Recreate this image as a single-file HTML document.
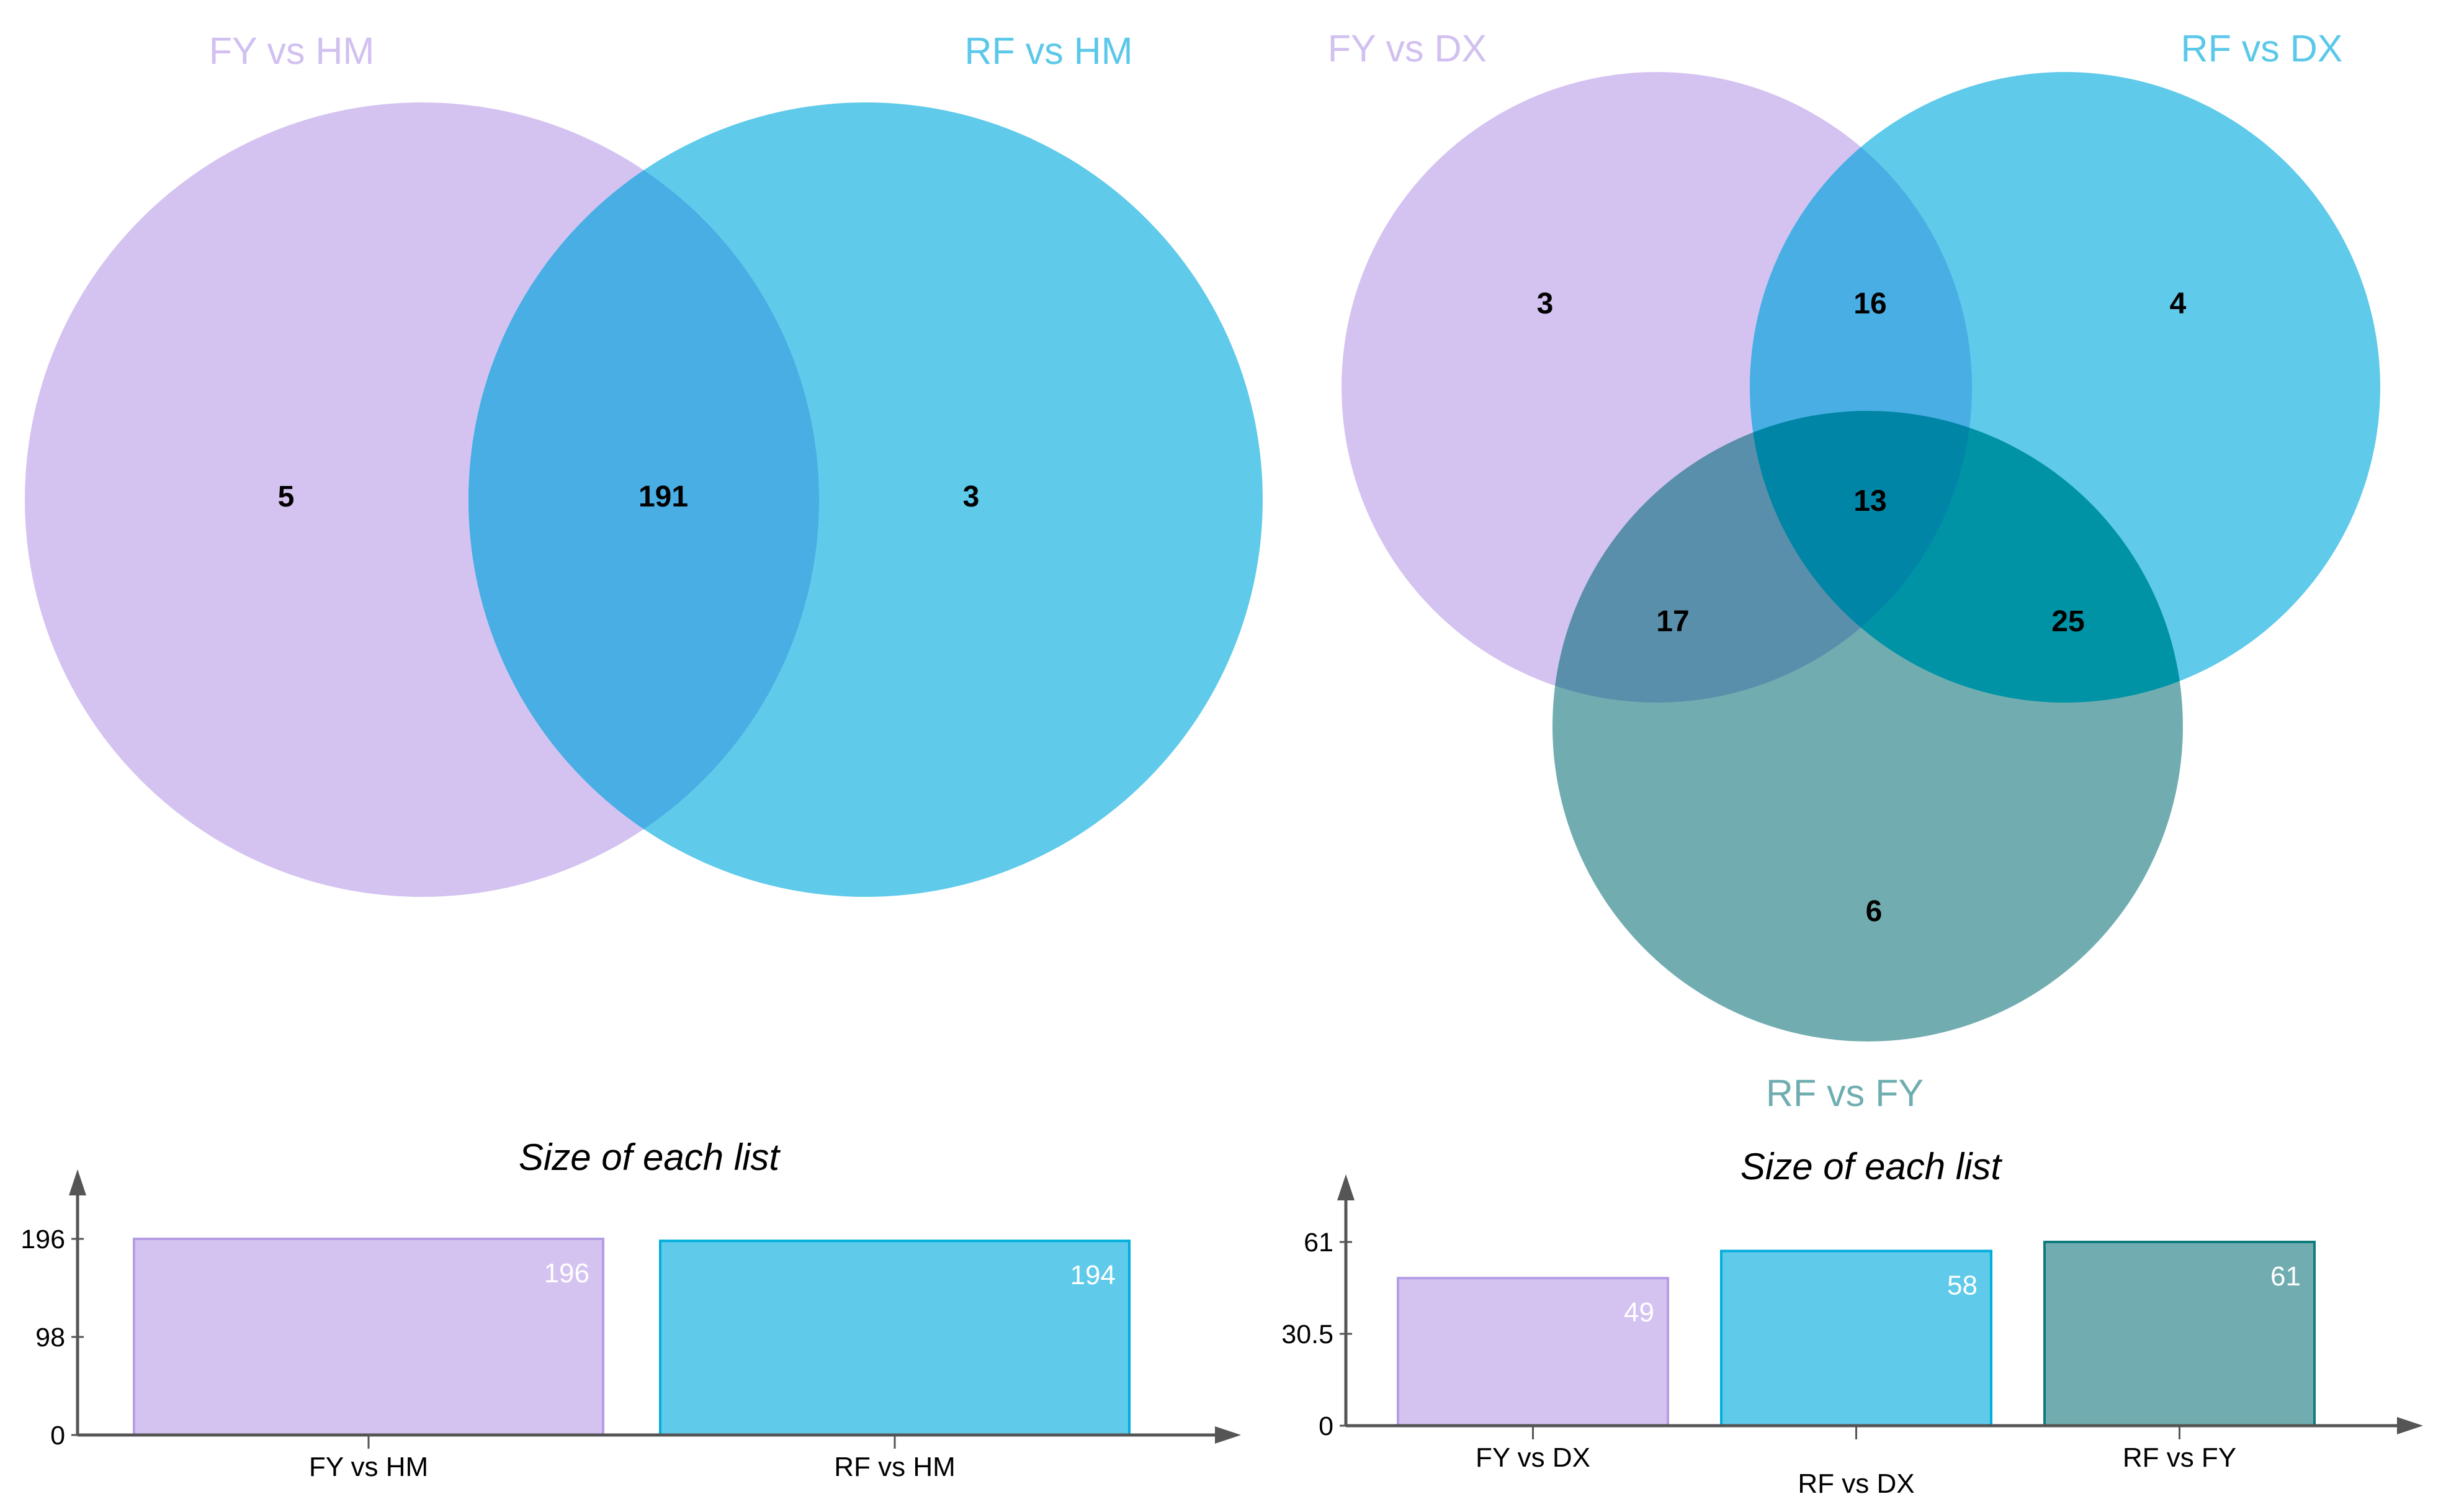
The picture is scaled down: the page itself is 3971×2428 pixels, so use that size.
<!DOCTYPE html>
<html><head><meta charset="utf-8"><style>
html,body{margin:0;padding:0;background:#fff;}
svg{display:block;font-family:"Liberation Sans",sans-serif;}
</style></head><body>
<svg id="root" width="3971" height="2428" viewBox="0 0 3971 2428" xmlns="http://www.w3.org/2000/svg">
<defs>
<clipPath id="cA"><circle cx="680" cy="805" r="640"/></clipPath>
<clipPath id="cP"><circle cx="2670" cy="624" r="508"/></clipPath>
<clipPath id="cB"><circle cx="3328" cy="624" r="508"/></clipPath>
<clipPath id="cT"><circle cx="3010" cy="1170" r="508"/></clipPath>
</defs>
<g>
<circle cx="680" cy="805" r="640" fill="#d4c3f1"/>
<circle cx="1395" cy="805" r="640" fill="#5fcaea"/>
<circle cx="1395" cy="805" r="640" fill="#48aee4" clip-path="url(#cA)"/>
<text x="470" y="103" font-size="61" fill="#d1c0f0" text-anchor="middle">FY vs HM</text>
<text x="1690" y="103" font-size="61" fill="#5bc8ea" text-anchor="middle">RF vs HM</text>
<g font-size="48" font-weight="bold" text-anchor="middle" fill="#000">
<text x="461" y="816">5</text>
<text x="1069" y="816">191</text>
<text x="1565" y="816">3</text>
</g>
</g>
<g>
<circle cx="2670" cy="624" r="508" fill="#d4c3f1"/>
<circle cx="3328" cy="624" r="508" fill="#5fcaea"/>
<circle cx="3010" cy="1170" r="508" fill="#71adb0"/>
<circle cx="3328" cy="624" r="508" fill="#48aee4" clip-path="url(#cP)"/>
<circle cx="3010" cy="1170" r="508" fill="#5a8fab" clip-path="url(#cP)"/>
<circle cx="3010" cy="1170" r="508" fill="#0093a6" clip-path="url(#cB)"/>
<g clip-path="url(#cP)"><circle cx="3010" cy="1170" r="508" fill="#0085a6" clip-path="url(#cB)"/></g>
<text x="2268" y="99" font-size="61" fill="#d1c0f0" text-anchor="middle">FY vs DX</text>
<text x="3645" y="99" font-size="61" fill="#5bc8ea" text-anchor="middle">RF vs DX</text>
<text x="2973" y="1782" font-size="61" fill="#6fadb0" text-anchor="middle">RF vs FY</text>
<g font-size="48" font-weight="bold" text-anchor="middle" fill="#000">
<text x="2490" y="505">3</text>
<text x="3014" y="505">16</text>
<text x="3510" y="505">4</text>
<text x="3014" y="823">13</text>
<text x="2696" y="1017">17</text>
<text x="3333" y="1017">25</text>
<text x="3020" y="1484">6</text>
</g>
</g>
<g id="bars1"></g>
<g id="bars2"></g>
</svg>
<script>
const cats1 = ["FY vs HM", "RF vs HM"];
const vals1 = [196, 194];
const ticks1 = [0, 98, 196];
const cats2 = ["FY vs DX", "RF vs DX", "RF vs FY"];
const vals2 = [49, 58, 61];
const ticks2 = [0, 30.5, 61];
const NS = "http://www.w3.org/2000/svg";
function mk(parent, tag, attrs, text) {
  const e = document.createElementNS(NS, tag);
  for (const k in attrs) e.setAttribute(k, attrs[k]);
  if (text !== undefined) e.textContent = text;
  parent.appendChild(e);
  return e;
}
const fills = ["#d4c3f1", "#5fcaea", "#71adb0"];
const strokes = ["#b59de6", "#00aedc", "#0e7a7c"];
function drawChart(g, cats, vals, ticks, cfg) {
  const maxV = ticks[ticks.length - 1];
  const y = v => cfg.base - (v / maxV) * (cfg.base - cfg.top);
  const slot = (cfg.barsEnd - cfg.barsStart) / cats.length;
  const x = i => cfg.barsStart + i * slot + cfg.gap / 2;
  const bw = slot - cfg.gap;
  const t = mk(g, "text", {x: cfg.titleX, y: cfg.titleY, "font-size": 60, "font-style": "italic", "text-anchor": "middle", fill: "#000"}, "Size of each list");
  
  
  cats.forEach((c, i) => {
    const r = mk(g, "rect", {x: x(i), y: y(vals[i]), width: bw, height: cfg.base - y(vals[i]), fill: fills[i], stroke: strokes[i], "stroke-width": 4});
    
    
    const v = mk(g, "text", {x: x(i) + bw - 22, y: y(vals[i]) + 70, "font-size": 44, fill: "#fff", "text-anchor": "end"}, String(vals[i]));
    
    
    const cx = x(i) + bw / 2;
    const tk = mk(g, "line", {x1: cx, y1: cfg.base, x2: cx, y2: cfg.base + 22, stroke: "#555", "stroke-width": 3});
    
    
    const ly = cfg.base + (cfg.stagger && i % 2 === 1 ? 108 : 66);
    const l = mk(g, "text", {x: cx, y: ly, "font-size": 44, fill: "#000", "text-anchor": "middle"}, c);
    
    
  });
  ticks.forEach(tv => {
    const ln = mk(g, "line", {x1: cfg.axisX - 10, y1: y(tv), x2: cfg.axisX + 10, y2: y(tv), stroke: "#555", "stroke-width": 3});
    
    
    const tl = mk(g, "text", {x: cfg.axisX - 20, y: y(tv) + 15, "font-size": 43, fill: "#000", "text-anchor": "end"}, String(tv));
    
    
  });
  const ya = mk(g, "line", {x1: cfg.axisX, y1: cfg.base, x2: cfg.axisX, y2: cfg.arrowTop + 40, stroke: "#555", "stroke-width": 5});
  
  
  const yh = mk(g, "polygon", {points: `${cfg.axisX},${cfg.arrowTop} ${cfg.axisX - 14},${cfg.arrowTop + 42} ${cfg.axisX + 14},${cfg.arrowTop + 42}`, fill: "#555"});
  
  
  const xa = mk(g, "line", {x1: cfg.axisX, y1: cfg.base, x2: cfg.arrowRight - 40, y2: cfg.base, stroke: "#555", "stroke-width": 5});
  
  
  const xh = mk(g, "polygon", {points: `${cfg.arrowRight},${cfg.base} ${cfg.arrowRight - 42},${cfg.base - 14} ${cfg.arrowRight - 42},${cfg.base + 14}`, fill: "#555"});
  
  
}
drawChart(document.getElementById("bars1"), cats1, vals1, ticks1,
  {axisX: 125, base: 2312, top: 1996, arrowTop: 1884, arrowRight: 2000, barsStart: 170, barsEnd: 1866, gap: 92, titleX: 1046, titleY: 1885, stagger: false});
drawChart(document.getElementById("bars2"), cats2, vals2, ticks2,
  {axisX: 2169, base: 2297, top: 2001, arrowTop: 1892, arrowRight: 3905, barsStart: 2210, barsEnd: 3773, gap: 86, titleX: 3015, titleY: 1900, stagger: true});
</script>
</body></html>
